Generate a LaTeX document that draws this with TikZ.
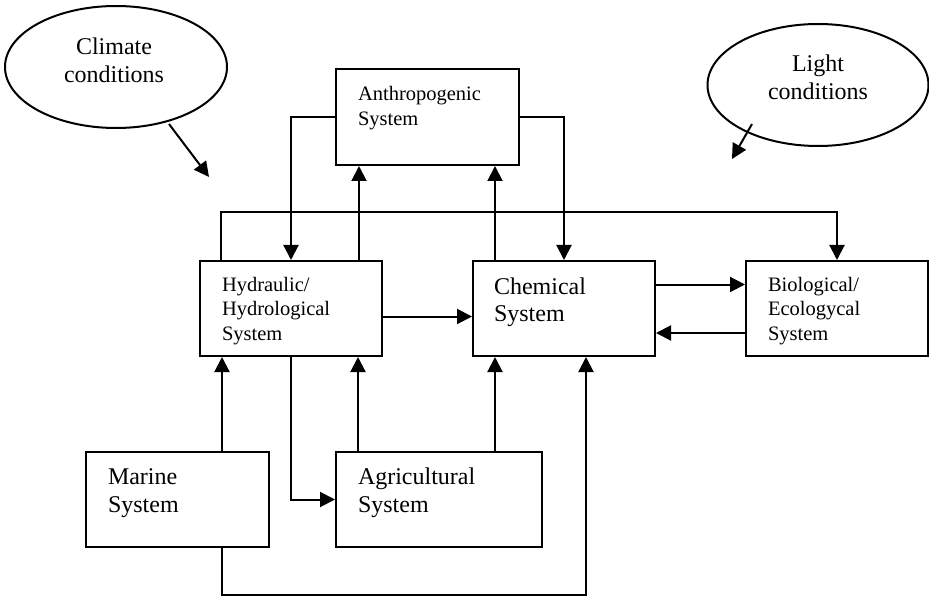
\documentclass[tikz,border=0pt]{standalone}
\usepackage{fontspec}
\setmainfont{Liberation Serif}
\usetikzlibrary{arrows.meta,shapes.geometric}

\begin{document}
\begin{tikzpicture}[x=1pt,y=-1pt,line width=2pt,
  sysbox/.style={draw,rectangle,line width=2pt,inner sep=0pt,minimum width=182pt,minimum height=95pt},
  cloud/.style={draw,ellipse,line width=2pt,inner sep=0pt},
  lbl/.style={inner sep=0pt,anchor=base west,align=left,text width=160pt},
  big/.style={font=\fontsize{24}{28}\selectfont},
  small/.style={font=\fontsize{20.5}{24.5}\selectfont},
  arr/.style={line width=2pt,-{Triangle[length=15pt,width=15pt]}}]

\useasboundingbox (0,0) rectangle (929,596);

% boxes of the systems
\node[sysbox,minimum width=183pt,minimum height=96pt] (anth) at (427.5,117) {};
\node[sysbox] (hyd)  at (291,308.5) {};
\node[sysbox] (chem) at (564,308.5) {};
\node[sysbox] (bio)  at (837,308.5) {};
\node[sysbox,minimum width=183pt] (mar) at (177.5,499.5) {};
\node[sysbox,minimum width=206pt] (agri) at (439,499.5) {};

% labels inside the boxes
\node[lbl,small] (anth-t) at (357,101) {Anthropogenic\\System};
\node[lbl,small] (hyd-t)  at (221,291) {Hydraulic/\\Hydrological\\System};
\node[lbl,big]   (chem-t) at (493,294) {Chemical\\System};
\node[lbl,small] (bio-t)  at (767,291) {Biological/\\Ecologycal\\System};
\node[lbl,big]   (mar-t)  at (107,484) {Marine\\System};
\node[lbl,big]   (agri-t) at (357,484) {Agricultural\\System};

% outside conditions
\node[cloud,minimum width=222pt,minimum height=122pt] (clim) at (116,67) {};
\node[cloud,minimum width=221pt,minimum height=122pt] (light) at (818,85) {};
\node[big,inner sep=0pt,anchor=base,align=center,text width=150pt] (clim-t) at (114,55) {Climate\\conditions};
\node[big,inner sep=0pt,anchor=base,align=center,text width=150pt] (light-t) at (818,72) {Light\\conditions};

\coordinate (clim-a) at (169,124);
\coordinate (clim-b) at (209,177);
\coordinate (light-a) at (752,124);
\coordinate (light-b) at (732,159);
\draw[arr] (clim-a) -- (clim-b);
\draw[arr] (light-a) -- (light-b);

% anthropogenic links
\draw[arr] (anth.west) -| (hyd.north);
\draw[arr] (anth.east) -| (chem.north);
\draw[arr] ([xshift=160pt]hyd.north west) -- ([xshift=160pt]hyd.north west |- anth.south);
\draw[arr] ([xshift=23pt]chem.north west) -- ([xshift=23pt]chem.north west |- anth.south);

% long link over the top to the biological system
\draw[arr] ([xshift=22pt]hyd.north west) -- ++(0,-48) -| (bio.north);

% middle row
\draw[arr] ([yshift=-8pt]hyd.east) -- ([yshift=-8pt]chem.west);
\draw[arr] ([yshift=24pt]chem.east) -- ([yshift=24pt]bio.west);
\draw[arr] ([yshift=-24.5pt]bio.west) -- ([yshift=-24.5pt]chem.east);

% lower row
\draw[arr] ([xshift=137pt]mar.north west) -- ([xshift=137pt]mar.north west |- hyd.south);
\draw[arr] (hyd.south) |- (agri.west);
\draw[arr] ([xshift=23pt]agri.north west) -- ([xshift=23pt]agri.north west |- hyd.south);
\draw[arr] ([xshift=160pt]agri.north west) -- ([xshift=160pt]agri.north west |- chem.south);
\draw[arr] ([xshift=137pt]mar.south west) -- ++(0,47) -| ([xshift=114pt]chem.south west);

\end{tikzpicture}
\end{document}
